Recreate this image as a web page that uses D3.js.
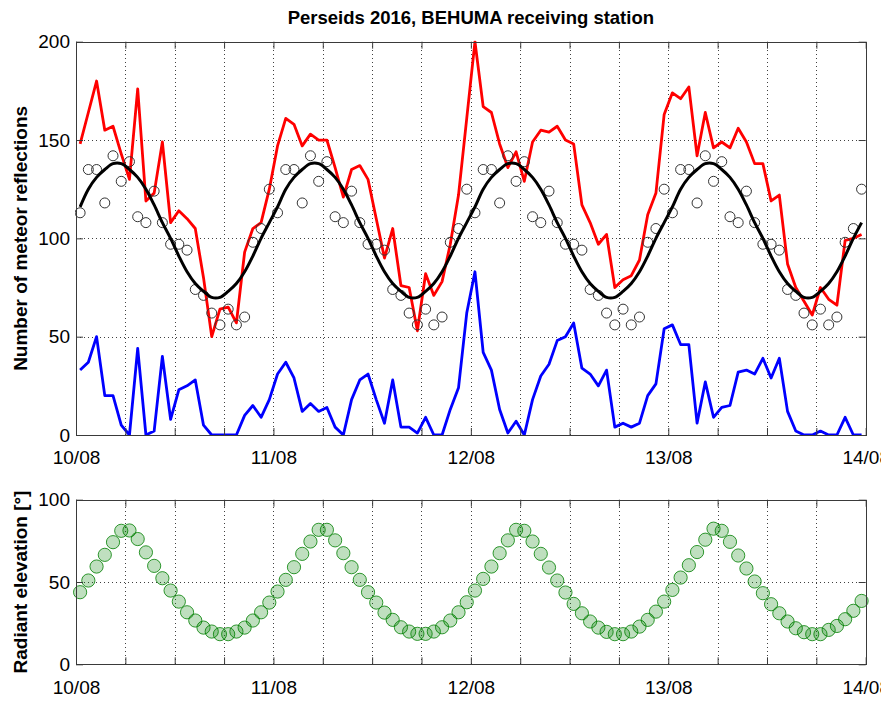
<!DOCTYPE html>
<html>
<head>
<meta charset="utf-8">
<script src="https://cdn.jsdelivr.net/npm/d3@7"></script>
<style>
  html, body { margin: 0; padding: 0; background: #fff; }
  svg { display: block; }
  text { font-family: "Liberation Sans", Arial, Helvetica, sans-serif; }
</style>
</head>
<body>
<div id="chart"></div>
<script>
// ---------- DATA (hourly, centred at hh:30 UTC, 10/08/2016 00:30 ... 13/08/2016 23:30) ----------
const title = "Perseids 2016, BEHUMA receiving station";
const yLabelTop = "Number of meteor reflections";
const yLabelBottom = "Radiant elevation [°]";
const dayTickLabels = ["10/08", "11/08", "12/08", "13/08", "14/08"];
const yTicksTop = [0, 50, 100, 150, 200];
const yTicksBottom = [0, 50, 100];

// total reflections (red)
const totalCounts = [
  148, 164, 180, 155, 157, 143, 130, 176, 119, 123, 149, 108,
  114, 110, 105, 80, 50, 64, 65, 57, 93, 105, 108, 125,
  147, 161, 158, 147, 153, 150, 150, 136, 121, 135, 137, 130,
  110, 90, 105, 76, 75, 53, 82, 71, 78, 97, 122, 161,
  200, 167, 164, 148, 136, 144, 129, 149, 155, 154, 157, 150,
  148, 117, 108, 97, 102, 75, 79, 81, 89, 112, 123, 163,
  174, 171, 177, 142, 164, 146, 149, 146, 156, 149, 138, 138,
  119, 122, 87, 75, 68, 61, 75, 69, 66, 99, 100, 102
];
// shower reflections (blue)
const showerCounts = [
  33, 37, 50, 20, 20, 5, 0, 44, 0, 2, 40, 8,
  23, 25, 28, 5, 0, 0, 0, 0, 10, 15, 9, 18,
  31, 37, 29, 12, 16, 12, 14, 4, 0, 18, 28, 31,
  18, 6, 28, 4, 4, 1, 9, 0, 0, 13, 24, 62,
  83, 42, 33, 13, 1, 7, 0, 18, 30, 36, 48, 50,
  57, 34, 31, 25, 33, 4, 6, 4, 6, 20, 26, 54,
  56, 46, 46, 6, 27, 9, 14, 15, 32, 33, 31, 39,
  29, 39, 12, 2, 0, 0, 2, 0, 0, 9, 0, 0
];
// sporadic background (open circles)
const sporadicCounts = [
  113, 135, 135, 118, 142, 129, 139, 111, 108, 124, 108, 97,
  97, 94, 74, 71, 62, 56, 64, 56, 60, 98, 105, 125,
  113, 135, 135, 118, 142, 129, 139, 111, 108, 124, 108, 97,
  97, 94, 74, 71, 62, 56, 64, 56, 60, 98, 105, 125,
  113, 135, 135, 118, 142, 129, 139, 111, 108, 124, 108, 97,
  97, 94, 74, 71, 62, 56, 64, 56, 60, 98, 105, 125,
  113, 135, 135, 118, 142, 129, 139, 111, 108, 124, 108, 97,
  97, 94, 74, 71, 62, 56, 64, 56, 60, 98, 105, 125
];
// fitted sporadic curve (black)
const sporadicFit = [
  116, 125, 131, 135, 138, 138, 135, 131, 125, 117, 108, 100,
  91, 83, 77, 73, 70, 70, 73, 77, 83, 91, 100, 108,
  116, 125, 131, 135, 138, 138, 135, 131, 125, 117, 108, 100,
  91, 83, 77, 73, 70, 70, 73, 77, 83, 91, 100, 108,
  116, 125, 131, 135, 138, 138, 135, 131, 125, 117, 108, 100,
  91, 83, 77, 73, 70, 70, 73, 77, 83, 91, 100, 108,
  116, 125, 131, 135, 138, 138, 135, 131, 125, 117, 108, 100,
  91, 83, 77, 73, 70, 70, 73, 77, 83, 91, 100, 108
];
// radiant elevation (green circles), degrees
const radiantElevation = [
  43.8, 50.9, 59.4, 66.5, 74.2, 81.1, 81.3, 76.1, 68.0, 59.8, 52.3, 44.8,
  38.1, 31.6, 26.6, 22.3, 19.9, 18.3, 18.3, 19.9, 22.3, 26.6, 31.6, 37.5,
  44.2, 51.3, 59.0, 67.1, 74.6, 81.7, 81.7, 75.3, 67.5, 59.0, 51.3, 43.8,
  37.5, 31.4, 27.0, 22.5, 19.9, 18.5, 18.5, 19.9, 22.5, 26.6, 31.6, 37.7,
  44.8, 51.9, 59.4, 67.5, 75.3, 81.7, 81.1, 74.6, 67.1, 58.8, 50.9, 43.6,
  36.7, 31.0, 26.0, 22.3, 19.7, 18.3, 18.3, 19.9, 22.9, 27.0, 32.0, 38.1,
  45.2, 52.7, 60.2, 68.2, 75.7, 82.4, 81.1, 74.4, 66.1, 58.2, 50.3, 43.2,
  36.5, 31.0, 26.0, 21.9, 19.5, 18.3, 18.3, 20.9, 23.3, 27.4, 32.5, 38.5
];

const firstSample = Date.UTC(2016, 7, 10, 0, 30);
const times = totalCounts.map((_, i) => new Date(firstSample + i * 3600e3));
const domainStart = new Date(Date.UTC(2016, 7, 10));
const domainEnd = new Date(Date.UTC(2016, 7, 14));

// ---------- LAYOUT ----------
const W = 881, H = 701;
const L = 76, R = 865.7;
const top1 = 41.7, bot1 = 435;
const top2 = 499.7, bot2 = 664.3;

const svg = d3.select("#chart").append("svg").attr("width", W).attr("height", H);

const x = d3.scaleUtc().domain([domainStart, domainEnd]).range([L, R]);
const y1 = d3.scaleLinear().domain([0, 200]).range([bot1, top1]);
const y2 = d3.scaleLinear().domain([0, 100]).range([bot2, top2]);

const sixHours = d3.utcHour.every(6);
const dayFmt = d3.utcFormat("%d/%m");
const fmtX = d => (d.getUTCHours() === 0 ? dayFmt(d) : "");

const axisColor = "#3a3a3a";
const gridColor = "#404040";

function panel(y, top, bot, yTicks, xLabelsBaseline) {
  const g = svg.append("g");
  // grid
  g.append("g").attr("transform", `translate(0,${bot})`)
    .call(d3.axisBottom(x).ticks(sixHours).tickSize(-(bot - top)).tickFormat(""))
    .call(s => s.select(".domain").remove())
    .call(s => s.selectAll("line").attr("stroke", gridColor).attr("stroke-dasharray", "1,3").attr("shape-rendering", "crispEdges"));
  g.append("g").attr("transform", `translate(${L},0)`)
    .call(d3.axisLeft(y).tickValues(yTicks.filter(v => v !== y.domain()[0] && v !== y.domain()[1])).tickSize(-(R - L)).tickFormat(""))
    .call(s => s.select(".domain").remove())
    .call(s => s.selectAll("line").attr("stroke", gridColor).attr("stroke-dasharray", "1,3").attr("shape-rendering", "crispEdges"));
  return g;
}

function frame(y, top, bot, yTicks) {
  const g = svg.append("g");
  const style = s => {
    s.select(".domain").attr("stroke", axisColor);
    s.selectAll("line").attr("stroke", axisColor);
    s.selectAll("text").attr("fill", "#000").attr("font-size", 19)
      .attr("font-family", '"Liberation Sans", Arial, sans-serif');
  };
  g.append("g").attr("transform", `translate(0,${bot})`)
    .call(d3.axisBottom(x).ticks(sixHours).tickSizeInner(-7).tickSizeOuter(0).tickPadding(16).tickFormat(fmtX))
    .call(style);
  g.append("g").attr("transform", `translate(0,${top})`)
    .call(d3.axisTop(x).ticks(sixHours).tickSizeInner(-7).tickSizeOuter(0).tickFormat(""))
    .call(style);
  g.append("g").attr("transform", `translate(${L},0)`)
    .call(d3.axisLeft(y).tickValues(yTicks).tickSizeInner(-7).tickSizeOuter(0).tickPadding(6))
    .call(style);
  g.append("g").attr("transform", `translate(${R},0)`)
    .call(d3.axisRight(y).tickValues(yTicks).tickSizeInner(-7).tickSizeOuter(0).tickFormat(""))
    .call(style);
  g.selectAll(".domain").attr("shape-rendering", "crispEdges");
  return g;
}

// ---------- TOP PANEL ----------
panel(y1, top1, bot1, yTicksTop);

const clip1 = svg.append("clipPath").attr("id", "clip1").append("rect")
  .attr("x", L - 1).attr("y", top1 - 1).attr("width", R - L + 2).attr("height", bot1 - top1 + 2);

const plot1 = svg.append("g").attr("clip-path", "url(#clip1)");

const line1 = d3.line().x((d, i) => x(times[i])).y(d => y1(d));

plot1.append("path").datum(totalCounts)
  .attr("d", line1).attr("fill", "none").attr("stroke", "#ff0000")
  .attr("stroke-width", 2.8).attr("stroke-linejoin", "round");

plot1.append("path").datum(showerCounts)
  .attr("d", line1).attr("fill", "none").attr("stroke", "#0000ff")
  .attr("stroke-width", 2.8).attr("stroke-linejoin", "round");

plot1.append("g").selectAll("circle").data(sporadicCounts).join("circle")
  .attr("cx", (d, i) => x(times[i])).attr("cy", d => y1(d)).attr("r", 5)
  .attr("fill", "none").attr("stroke", "#333").attr("stroke-width", 1);

plot1.append("path").datum(sporadicFit)
  .attr("d", d3.line().x((d, i) => x(times[i])).y(d => y1(d)).curve(d3.curveCatmullRom))
  .attr("fill", "none").attr("stroke", "#000").attr("stroke-width", 3);

frame(y1, top1, bot1, yTicksTop);

// ---------- BOTTOM PANEL ----------
panel(y2, top2, bot2, yTicksBottom);

svg.append("g").selectAll("circle").data(radiantElevation).join("circle")
  .attr("cx", (d, i) => x(times[i])).attr("cy", d => y2(d)).attr("r", 6.6)
  .attr("fill", "rgba(0,128,0,0.25)").attr("stroke", "rgba(0,128,0,0.8)").attr("stroke-width", 1);

frame(y2, top2, bot2, yTicksBottom);

// ---------- TEXT ----------
svg.append("text").attr("x", (L + R) / 2).attr("y", 24)
  .attr("text-anchor", "middle").attr("font-size", 18.5).attr("font-weight", "bold")
  .text(title);

svg.append("text")
  .attr("transform", `translate(26.5,${(top1 + bot1) / 2}) rotate(-90)`)
  .attr("text-anchor", "middle").attr("font-size", 19).attr("font-weight", "bold")
  .text(yLabelTop);

svg.append("text")
  .attr("transform", `translate(26.5,${(top2 + bot2) / 2}) rotate(-90)`)
  .attr("text-anchor", "middle").attr("font-size", 19).attr("font-weight", "bold")
  .text(yLabelBottom);
</script>
</body>
</html>
